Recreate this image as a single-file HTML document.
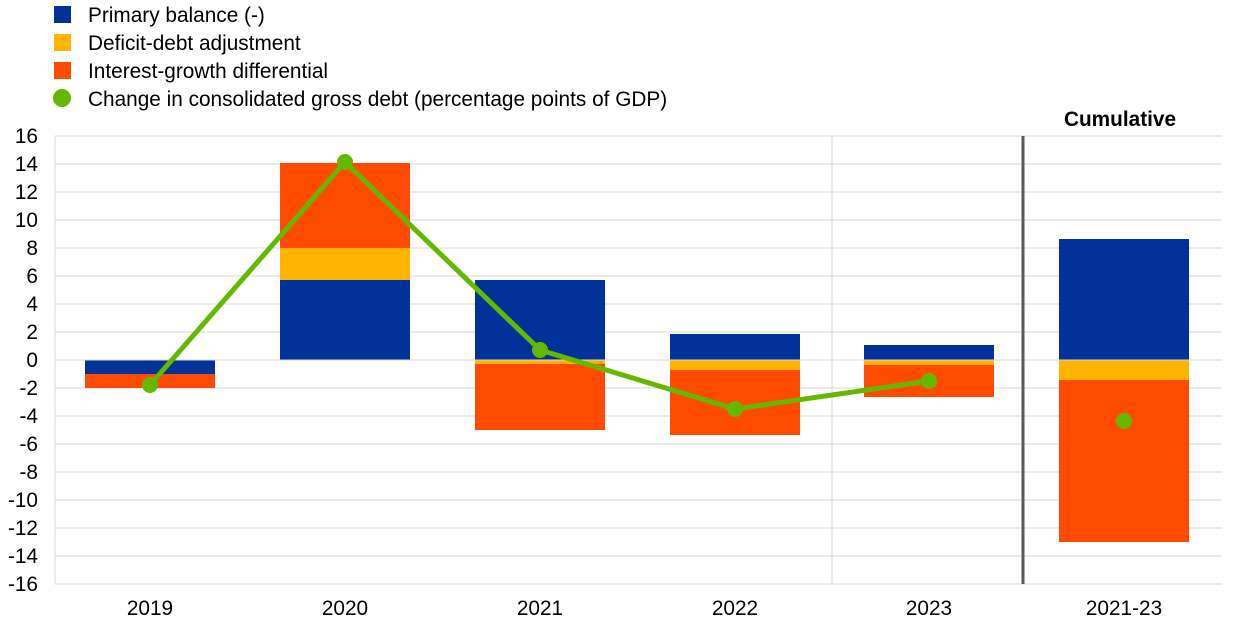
<!DOCTYPE html>
<html><head><meta charset="utf-8"><style>
html,body{margin:0;padding:0;background:#fff;}
svg{display:block;font-family:"Liberation Sans",Arial,sans-serif;}
</style></head><body>
<svg width="1240" height="630" viewBox="0 0 1240 630" xmlns="http://www.w3.org/2000/svg">
<rect x="54" y="6" width="17" height="17" fill="#003299"/>
<text x="88" y="22" font-size="20.8" fill="#000">Primary balance (-)</text>
<rect x="54" y="34" width="17" height="17" fill="#ffb400"/>
<text x="88" y="50" font-size="20.8" fill="#000">Deficit-debt adjustment</text>
<rect x="54" y="62" width="17" height="17" fill="#ff4b00"/>
<text x="88" y="78" font-size="20.8" fill="#000">Interest-growth differential</text>
<circle cx="62" cy="98" r="9" fill="#65b800"/>
<text x="88" y="106" font-size="20.8" fill="#000">Change in consolidated gross debt (percentage points of GDP)</text>
<text x="1120" y="126" font-size="20.8" font-weight="bold" text-anchor="middle">Cumulative</text>
<g stroke="#d9d9d9" stroke-width="1">
<line x1="55" x2="1222" y1="136" y2="136"/><line x1="55" x2="1222" y1="164" y2="164"/>
<line x1="55" x2="1222" y1="192" y2="192"/><line x1="55" x2="1222" y1="220" y2="220"/>
<line x1="55" x2="1222" y1="248" y2="248"/><line x1="55" x2="1222" y1="276" y2="276"/>
<line x1="55" x2="1222" y1="304" y2="304"/><line x1="55" x2="1222" y1="332" y2="332"/>
<line x1="55" x2="1222" y1="388" y2="388"/><line x1="55" x2="1222" y1="416" y2="416"/>
<line x1="55" x2="1222" y1="444" y2="444"/><line x1="55" x2="1222" y1="472" y2="472"/>
<line x1="55" x2="1222" y1="500" y2="500"/><line x1="55" x2="1222" y1="528" y2="528"/>
<line x1="55" x2="1222" y1="556" y2="556"/><line x1="55" x2="1222" y1="584" y2="584"/>
<line x1="55" x2="55" y1="136" y2="584"/>
<line x1="832" x2="832" y1="136" y2="584"/>
</g>
<g font-size="20.8" text-anchor="end" fill="#000">
<text x="38" y="143">16</text><text x="38" y="171">14</text><text x="38" y="199">12</text>
<text x="38" y="227">10</text><text x="38" y="255">8</text><text x="38" y="283">6</text>
<text x="38" y="311">4</text><text x="38" y="339">2</text><text x="38" y="367">0</text>
<text x="38" y="395">-2</text><text x="38" y="423">-4</text><text x="38" y="451">-6</text>
<text x="38" y="479">-8</text><text x="38" y="507">-10</text><text x="38" y="535">-12</text>
<text x="38" y="563">-14</text><text x="38" y="591">-16</text>
</g>
<rect x="85" y="360" width="130" height="14" fill="#003299"/>
<rect x="85" y="374" width="130" height="14" fill="#ff4b00"/>
<rect x="280" y="280" width="130" height="80" fill="#003299"/>
<rect x="280" y="248" width="130" height="32" fill="#ffb400"/>
<rect x="280" y="163" width="130" height="85" fill="#ff4b00"/>
<rect x="475" y="280" width="130" height="80" fill="#003299"/>
<rect x="475" y="360" width="130" height="4" fill="#ffb400"/>
<rect x="475" y="364" width="130" height="66" fill="#ff4b00"/>
<rect x="670" y="334" width="130" height="26" fill="#003299"/>
<rect x="670" y="360" width="130" height="10" fill="#ffb400"/>
<rect x="670" y="370" width="130" height="65" fill="#ff4b00"/>
<rect x="864" y="345" width="130" height="15" fill="#003299"/>
<rect x="864" y="360" width="130" height="5" fill="#ffb400"/>
<rect x="864" y="365" width="130" height="32" fill="#ff4b00"/>
<rect x="1059" y="239" width="130" height="121" fill="#003299"/>
<rect x="1059" y="360" width="130" height="20" fill="#ffb400"/>
<rect x="1059" y="380" width="130" height="162" fill="#ff4b00"/>
<line x1="55" x2="1222" y1="360" y2="360" stroke="#d9d9d9" stroke-width="1"/>
<line x1="1023" x2="1023" y1="136" y2="584" stroke="#595959" stroke-width="3"/>
<polyline points="150,385 345,162 540,350 735,409 929,381" fill="none" stroke="#65b800" stroke-width="5" stroke-linejoin="round"/>
<g fill="#65b800">
<circle cx="150" cy="385" r="8"/><circle cx="345" cy="162" r="8"/><circle cx="540" cy="350" r="8"/>
<circle cx="735" cy="409" r="8"/><circle cx="929" cy="381" r="8"/><circle cx="1124" cy="421" r="8"/>
</g>
<g font-size="20.8" text-anchor="middle" fill="#000">
<text x="150" y="615">2019</text><text x="345" y="615">2020</text><text x="540" y="615">2021</text>
<text x="735" y="615">2022</text><text x="929" y="615">2023</text><text x="1124" y="615">2021-23</text>
</g>
</svg>
</body></html>
